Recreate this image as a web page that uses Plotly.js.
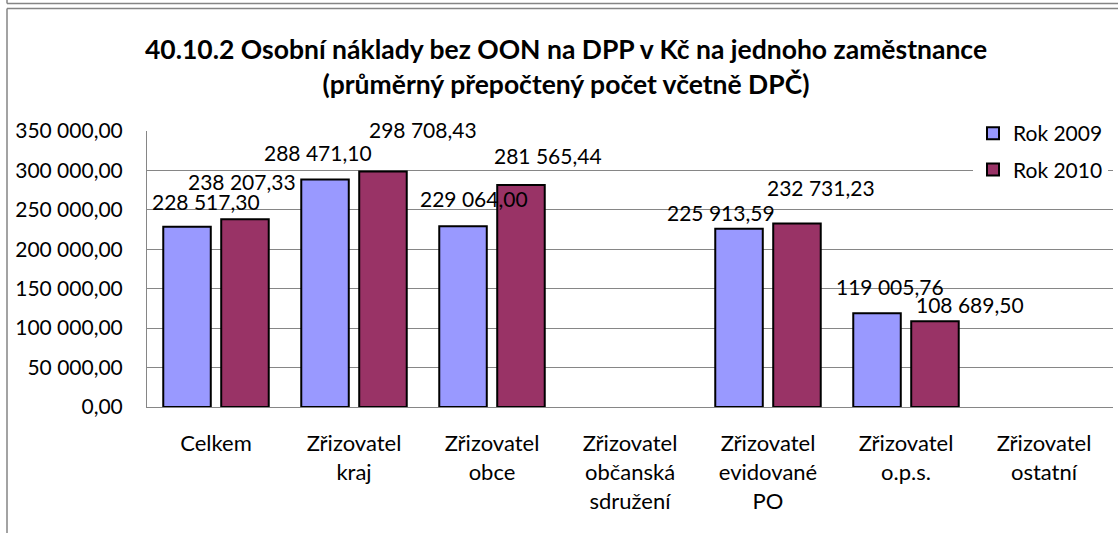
<!DOCTYPE html>
<html>
<head>
<meta charset="utf-8">
<script src="https://cdn.plot.ly/plotly-3.0.1.min.js"></script>
<style>
  html, body { margin: 0; padding: 0; background: #fff; }
  #chart { width: 1118px; height: 533px; }
</style>
</head>
<body>
<div id="chart"></div>
<script>
// ---- data ----
const categories = [
  'Celkem',
  'Zřizovatel<br>kraj',
  'Zřizovatel<br>obce',
  'Zřizovatel<br>občanská<br>sdružení',
  'Zřizovatel<br>evidované<br>PO',
  'Zřizovatel<br>o.p.s.',
  'Zřizovatel<br>ostatní'
];
const seriesNames = ['Rok 2009', 'Rok 2010'];
const values2009 = [228517.30, 288471.10, 229064.00, null, 225913.59, 119005.76, null];
const values2010 = [238207.33, 298708.43, 281565.44, null, 232731.23, 108689.50, null];
const chartTitle = '40.10.2 Osobní náklady bez OON na DPP v Kč na jednoho zaměstnance<br>(průměrný přepočtený počet včetně DPČ)';

// ---- label placement (pixel offsets of data labels, as in the original) ----
const labelDx2009 = [-10, -36, -18, 0, -47, -16, 0];
const labelDy2009 = [25, 27, 28, 0, 16, 27, 0];
const labelDx2010 = [26, 69, 56, 0, 53, 64, 0];
const labelDy2010 = [38, 42, 29, 0, 36, 17, 0];

const FONT = 'Lato, Carlito, Calibri, "Open Sans", sans-serif';
const colors = ['#9999FF', '#993366'];

function fmt(v) {
  const s = v.toFixed(2).split('.');
  const intPart = s[0].replace(/\B(?=(\d{3})+(?!\d))/g, ' ');
  return intPart + ',' + s[1];
}

const traces = [values2009, values2010].map((vals, k) => ({
  type: 'bar',
  name: seriesNames[k],
  x: categories,
  y: vals,
  legendgroup: 'g' + k,
  marker: { color: colors[k], line: { color: '#000000', width: 2 } },
  hoverinfo: 'x+y'
}));

const annotations = [];
[[values2009, labelDx2009, labelDy2009], [values2010, labelDx2010, labelDy2010]].forEach(([vals, dx, dy]) => {
  vals.forEach((v, i) => {
    if (v === null) return;
    annotations.push({
      x: categories[i], y: v, xref: 'x', yref: 'y',
      text: fmt(v), showarrow: false,
      xanchor: 'center', yanchor: 'middle',
      xshift: dx[i], yshift: dy[i],
      font: { family: FONT, size: 21, color: '#000' }
    });
  });
});

// geometry
const W = 1118, H = 533;
const mL = 147, mR = 5, mT = 131, mB = 126;
const pw = W - mL - mR, ph = H - mT - mB;
const px = x => (x - mL) / pw;
const py = y => (H - mB - y) / ph;
const frameColor = '#858585';
const shapes = [
  { type: 'line', xref: 'paper', yref: 'paper', x0: px(7), x1: px(W + 2), y0: py(3.5), y1: py(3.5), line: { color: frameColor, width: 1.5 } },
  { type: 'line', xref: 'paper', yref: 'paper', x0: px(7), x1: px(7), y0: py(-2), y1: py(3.5), line: { color: frameColor, width: 1.5 } },
  { type: 'line', xref: 'paper', yref: 'paper', x0: px(7), x1: px(W + 2), y0: py(8.5), y1: py(8.5), line: { color: frameColor, width: 1.5 } },
  { type: 'line', xref: 'paper', yref: 'paper', x0: px(7), x1: px(7), y0: py(8.5), y1: py(H + 2), line: { color: frameColor, width: 1.5 } }
];

const layout = {
  width: W, height: H,
  margin: { l: mL, r: mR, t: mT, b: mB, pad: 0 },
  paper_bgcolor: '#ffffff', plot_bgcolor: '#ffffff',
  separators: ', ',
  font: { family: FONT, size: 21, color: '#000' },
  title: {
    text: chartTitle,
    font: { family: FONT, size: 26.5, color: '#000', weight: 'bold' },
    x: 566 / W, xanchor: 'center', xref: 'container',
    y: 0.889, yanchor: 'middle', yref: 'container'
  },
  barmode: 'group',
  bargap: 0.16,
  bargroupgap: 0.18,
  showlegend: true,
  legend: {
    x: px(973), y: py(113), xanchor: 'left', yanchor: 'top',
    bgcolor: '#ffffff', borderwidth: 0,
    font: { family: FONT, size: 21, color: '#000' },
    traceorder: 'grouped', tracegroupgap: 6,
    itemclick: false, itemdoubleclick: false
  },
  xaxis: {
    type: 'category',
    showline: true, linecolor: '#868686', linewidth: 1,
    ticks: '', showgrid: false,
    tickfont: { family: FONT, size: 22, color: '#000' },
    ticklabelstandoff: 17,
    fixedrange: true
  },
  yaxis: {
    range: [0, 350000], dtick: 50000, tick0: 0,
    tickformat: ',.2f',
    showgrid: true, gridcolor: '#868686', gridwidth: 1,
    showline: true, linecolor: '#868686', linewidth: 1,
    zeroline: false, ticks: '',
    ticklabelstandoff: 19,
    tickfont: { family: FONT, size: 21, color: '#000' },
    fixedrange: true
  },
  annotations: annotations,
  shapes: shapes
};

Plotly.newPlot('chart', traces, layout, { displayModeBar: false, staticPlot: true });
</script>
</body>
</html>
